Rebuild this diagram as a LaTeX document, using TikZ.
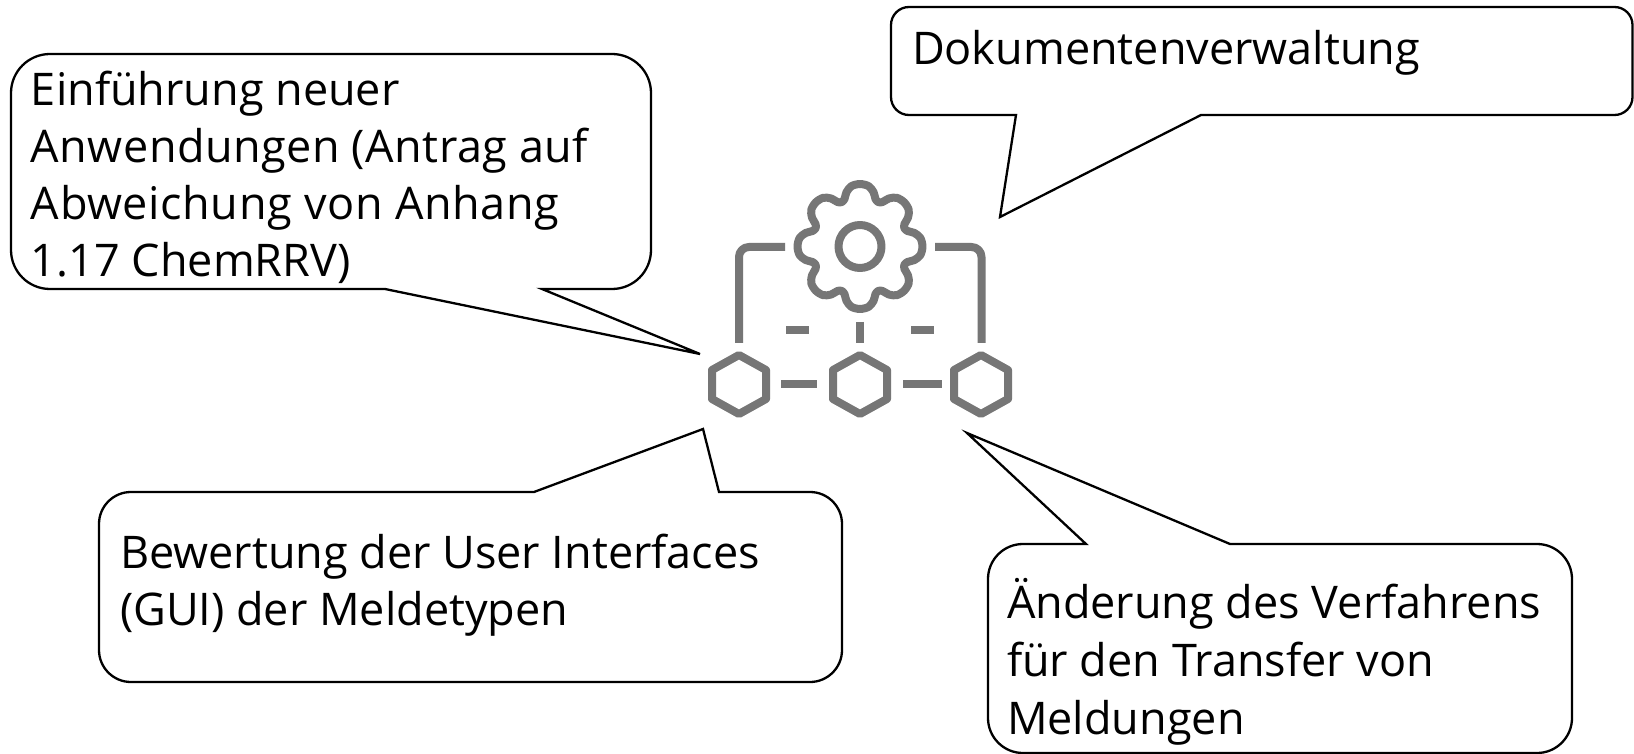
\documentclass[tikz,border=0pt]{standalone}
\usepackage{fontspec}
\setmainfont{Open Sans}
\tikzset{
  x=0.5pt,y=-0.5pt,
  bubble/.style={draw=black,line width=1.15pt,fill=white,line join=miter},
  label/.style={anchor=base west,inner sep=0pt,outer sep=0pt,align=left,font=\fontsize{22.5}{28.65}\selectfont},
  icon/.style={draw=icongray,line width=4pt,line cap=butt,line join=round},
}
\definecolor{icongray}{HTML}{767676}
\begin{document}
\begin{tikzpicture}
\useasboundingbox (0,0) rectangle (1634,754);
\fill[white] (0,0) rectangle (1634,754);

% callout 1
\draw[bubble] (542,289) [rounded corners=19.5pt] -- (651,289) -- (651,54) -- (11,54) -- (11,289) [sharp corners] -- (385,289) -- (700,354) -- cycle;
% callout 2
\draw[bubble] (1201,115) [rounded corners=9pt] -- (1632.5,115) -- (1632.5,7) -- (891,7) -- (891,115) [sharp corners] -- (1016,115) -- (1000,217) -- cycle;
% callout 3
\draw[bubble] (719,492) [rounded corners=16pt] -- (842,492) -- (842,682) -- (99,682) -- (99,492) [sharp corners] -- (534,492) -- (703,429) -- cycle;
% callout 4
\draw[bubble] (1230,544) [rounded corners=17.5pt] -- (1572,544) -- (1572,753) -- (988,753) -- (988,544) [sharp corners] -- (1086,544) -- (967,433) -- cycle;

\node[label] (t1a) at (31,106) {Einführung neuer};
\node[label] (t1b) at (31,163) {\addfontfeature{LetterSpace=1.0}Anwendungen (Antrag auf};
\node[label] (t1c) at (31,220) {\addfontfeature{LetterSpace=1.3}Abweichung von Anhang};
\node[label] (t1d) at (31,277) {1.17 ChemRRV)};
\node[label] (t2) at (912,65) {Dokumentenverwaltung};
\node[label] (t3a) at (120,568) {Bewertung der User Interfaces};
\node[label] (t3b) at (120,625) {(GUI) der Meldetypen};
\node[label] (t4a) at (1007,618) {Änderung des Verfahrens};
\node[label] (t4b) at (1007,676) {für den Transfer von};
\node[label] (t4c) at (1007,734) {Meldungen};

% icon
\begin{scope}[shift={(860,246.5)}]
  \def\gearpts{}
  \foreach \a in {0,45,...,315}{
    \pgfmathsetmacro{\p}{\a+8}\pgfmathsetmacro{\q}{\a+14}\pgfmathsetmacro{\r}{\a+18}\pgfmathsetmacro{\v}{\a+22.5}\pgfmathsetmacro{\w}{\a+27}\pgfmathsetmacro{\s}{\a+31}\pgfmathsetmacro{\u}{\a+37}
    \xdef\gearpts{\gearpts (\a:62.5) (\p:61) (\q:56) (\r:50) (\v:48) (\w:50) (\s:56) (\u:61)}
  }
  \edef\gearcmd{\noexpand\draw[icon] plot[smooth cycle,tension=0.5] coordinates {\gearpts};}
  \gearcmd
  \draw[icon] (0,0) circle[radius=21.5];
\end{scope}
\draw[icon,rounded corners=5pt] (785,247) -- (739,247) -- (739,343);
\draw[icon,rounded corners=5pt] (935,247) -- (981.5,247) -- (981.5,343);
\draw[icon] (786,330) -- (809,330);
\draw[icon] (860,322) -- (860,343);
\draw[icon] (911,330) -- (934,330);
\foreach \c in {739,860,981}{
  \draw[icon] (\c,355) -- (\c+27,370) -- (\c+27,399) -- (\c,414) -- (\c-27,399) -- (\c-27,370) -- cycle;
}
\draw[icon] (781,384) -- (817,384);
\draw[icon] (903,384) -- (942,384);
\end{tikzpicture}
\end{document}
